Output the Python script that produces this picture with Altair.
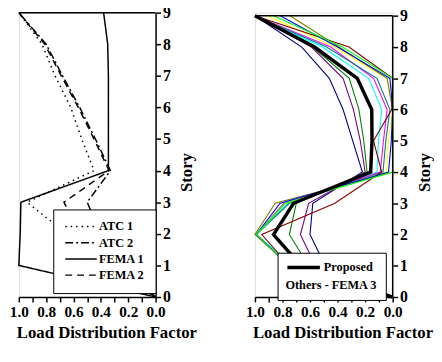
import altair as alt
import pandas as pd

FONT = "Liberation Serif"

stories = list(range(10))

# ---- left panel: code distributions ----
left_names = ["ATC 1", "ATC 2", "FEMA 1", "FEMA 2"]
atc1 = [0.0, 0.40, 0.65, 0.94, 0.45, 0.54, 0.62, 0.735, 0.83, 1.0]
atc2 = [0.0, 0.25, 0.40, 0.50, 0.33, 0.44, 0.555, 0.68, 0.80, 1.0]
fema1 = [0.0, 1.0, 0.99, 0.985, 0.345, 0.345, 0.345, 0.345, 0.35, 0.38]
fema2 = [0.0, 0.35, 0.55, 0.67, 0.34, 0.45, 0.565, 0.69, 0.81, 1.0]
left_dashes = [[1.5, 4], [8, 3, 2, 3], [1, 0], [7, 5]]

# ---- right panel: proposed + others (FEMA 3) ----
proposed = [0.0, 0.665, 0.865, 0.72, 0.16, 0.15, 0.152, 0.257, 0.567, 1.0]
other_names = ["navy", "purple", "green", "cyan", "magenta", "teal",
               "yellow", "olive", "maroon", "blue", "lime"]
other_colors = ["#000080", "#800080", "#008000", "#00FFFF", "#FF00FF", "#008080",
                "#FFFF00", "#808000", "#800000", "#0000FF", "#00FF00"]
other_values = [
    [0.0, 0.49, 0.60, 0.58, 0.22, 0.29, 0.36, 0.46, 0.66, 1.0],
    [0.0, 0.56, 0.67, 0.61, 0.20, 0.235, 0.285, 0.36, 0.59, 1.0],
    [0.0, 0.61, 0.75, 0.70, 0.186, 0.21, 0.245, 0.315, 0.58, 1.0],
    [0.0, 0.72, 0.99, 0.76, 0.114, 0.103, 0.079, 0.174, 0.51, 1.0],
    [0.0, 0.75, 0.99, 0.79, 0.09, 0.067, 0.04, 0.139, 0.45, 1.0],
    [0.0, 0.75, 0.99, 0.75, 0.07, 0.05, 0.02, 0.114, 0.48, 1.0],
    [0.0, 0.75, 0.99, 0.78, 0.043, 0.031, 0.0, 0.043, 0.42, 0.91],
    [0.0, 0.75, 1.0, 0.853, 0.0, 0.0, 0.0, 0.04, 0.39, 0.746],
    [0.0, 0.75, 0.95, 0.42, 0.08, 0.139, 0.007, 0.0, 0.317, 1.0],
    [0.0, 0.75, 0.99, 0.817, 0.03, 0.01, 0.0, 0.02, 0.40, 0.817],
    [0.0, 0.75, 0.99, 0.78, 0.0, 0.0, 0.0, 0.0, 0.364, 0.864],
]

x_ticks = [round(i * 0.1, 1) for i in range(11)]
y_ticks = stories
top_rule = pd.DataFrame({"x": [1.0], "x2": [0.0], "story": [9]})
right_axis_line = pd.DataFrame({"ldf": [0.0], "story": [0], "y2": [9]})

left_df = pd.DataFrame(
    [{"series": n, "story": s, "ldf": v}
     for n, vals in zip(left_names, [atc1, atc2, fema1, fema2])
     for s, v in zip(stories, vals)]
)
others_df = pd.DataFrame(
    [{"series": n, "story": s, "ldf": v}
     for n, vals in zip(other_names, other_values)
     for s, v in zip(stories, vals)]
)
prop_df = pd.DataFrame({"series": "Proposed", "story": stories, "ldf": proposed})

W_L, W_R, H = 139, 140, 289
RMAX = 9.1

label_expr = "round(datum.value * 10) % 2 == 0 ? format(datum.value, '.1f') : ''"

X_AXIS = alt.Axis(
    values=x_ticks, labelExpr=label_expr, labelOverlap=False, labelFlush=False,
    title="Load Distribution Factor", titleX=89, titleY=36,
    titleBaseline="middle", titleAlign="center",
    grid=False, tickSize=5, tickWidth=1.5, domainWidth=1.5,
    domainColor="black", tickColor="black",
    labelFont=FONT, labelFontSize=15.5, labelFontWeight="bold",
    labelColor="black", labelPadding=3,
    titleFont=FONT, titleFontSize=17, titleFontWeight="bold",
    titleColor="black",
)


def y_axis(show_domain):
    return alt.Axis(
        orient="right", values=y_ticks, format="d", grid=False, labelOverlap=False,
        labelFlush=False,
        tickSize=5, tickWidth=1.5, domain=show_domain, domainWidth=1.5,
        domainColor="black", tickColor="black",
        labelFont=FONT, labelFontSize=16, labelFontWeight="bold",
        labelColor="black", labelPadding=2,
        title="Story", titleAngle=270, titleX=32, titleY=162,
        titleAlign="center", titleBaseline="middle",
        titleFont=FONT, titleFontSize=17, titleFontWeight="bold",
        titleColor="black",
    )


def x_enc(field="ldf"):
    return alt.X(f"{field}:Q", scale=alt.Scale(domain=[0, 1], reverse=True, nice=False),
                 axis=X_AXIS)


def y_enc(domain_max, show_domain=True):
    return alt.Y("story:Q", scale=alt.Scale(domain=[0, domain_max], nice=False),
                 axis=y_axis(show_domain))


# ---- left chart ----
left_lines = alt.Chart(left_df).mark_line(color="black", strokeWidth=1.5).encode(
    x=x_enc(),
    y=y_enc(9),
    order="story:Q",
    strokeDash=alt.StrokeDash(
        "series:N",
        scale=alt.Scale(domain=left_names, range=left_dashes),
        legend=alt.Legend(
            title=None, orient="none", legendX=35, legendY=200,
            symbolType="M-1,0H5.4", symbolSize=100, symbolStrokeWidth=1.5,
            symbolStrokeColor="black", labelFont=FONT, labelFontSize=12.5,
            labelFontWeight="bold", labelColor="black", labelOffset=23,
            fillColor="white", strokeColor="black", padding=11,
            rowPadding=3.5,
        ),
    ),
)
left_top = alt.Chart(top_rule).mark_rule(color="black", strokeWidth=1.5).encode(
    x=x_enc("x"), x2="x2:Q", y=y_enc(9)
)
left = alt.layer(left_lines, left_top).properties(width=W_L, height=H)

# ---- right chart ----
right_others = alt.Chart(others_df).mark_line(strokeWidth=1.1).encode(
    x=x_enc(),
    y=y_enc(RMAX, show_domain=False),
    order="story:Q",
    color=alt.Color("series:N", scale=alt.Scale(domain=other_names, range=other_colors),
                    legend=None),
)
right_prop = alt.Chart(prop_df).mark_line(strokeWidth=3.5).encode(
    x=x_enc(),
    y=y_enc(RMAX, show_domain=False),
    order="story:Q",
    stroke=alt.Stroke(
        "series:N",
        scale=alt.Scale(domain=["Proposed"], range=["black"]),
        legend=alt.Legend(
            title="Others - FEMA 3", titleOrient="bottom", orient="none",
            legendX=23, legendY=244,
            symbolType="M-1,0H5.6", symbolSize=100, symbolStrokeWidth=3.5,
            labelFont=FONT, labelFontSize=12.5, labelFontWeight="bold",
            labelColor="black", labelOffset=25,
            titleFont=FONT, titleFontSize=12.5, titleFontWeight="bold",
            titleColor="black", titlePadding=5,
            fillColor="white", strokeColor="black", padding=8,
        ),
    ),
)
right_top = alt.Chart(top_rule).mark_rule(color="black", strokeWidth=1.5).encode(
    x=x_enc("x"), x2="x2:Q", y=y_enc(RMAX, show_domain=False)
)
right_axis = alt.Chart(right_axis_line).mark_rule(color="black", strokeWidth=1.5).encode(
    x=x_enc(), y=y_enc(RMAX, show_domain=False), y2="y2:Q"
)
right = alt.layer(right_others, right_prop, right_top, right_axis).properties(
    width=W_R, height=H
)

chart = alt.hconcat(left, right, spacing=101, bounds="flush").resolve_scale(
    x="independent", y="independent", color="independent",
    stroke="independent", strokeDash="independent",
).properties(
    padding={"left": 0, "top": -7, "right": 0, "bottom": 0}
).configure_view(stroke=None).configure(background="white")

chart.save("out.html", embed_options={"renderer": "svg", "actions": False})
